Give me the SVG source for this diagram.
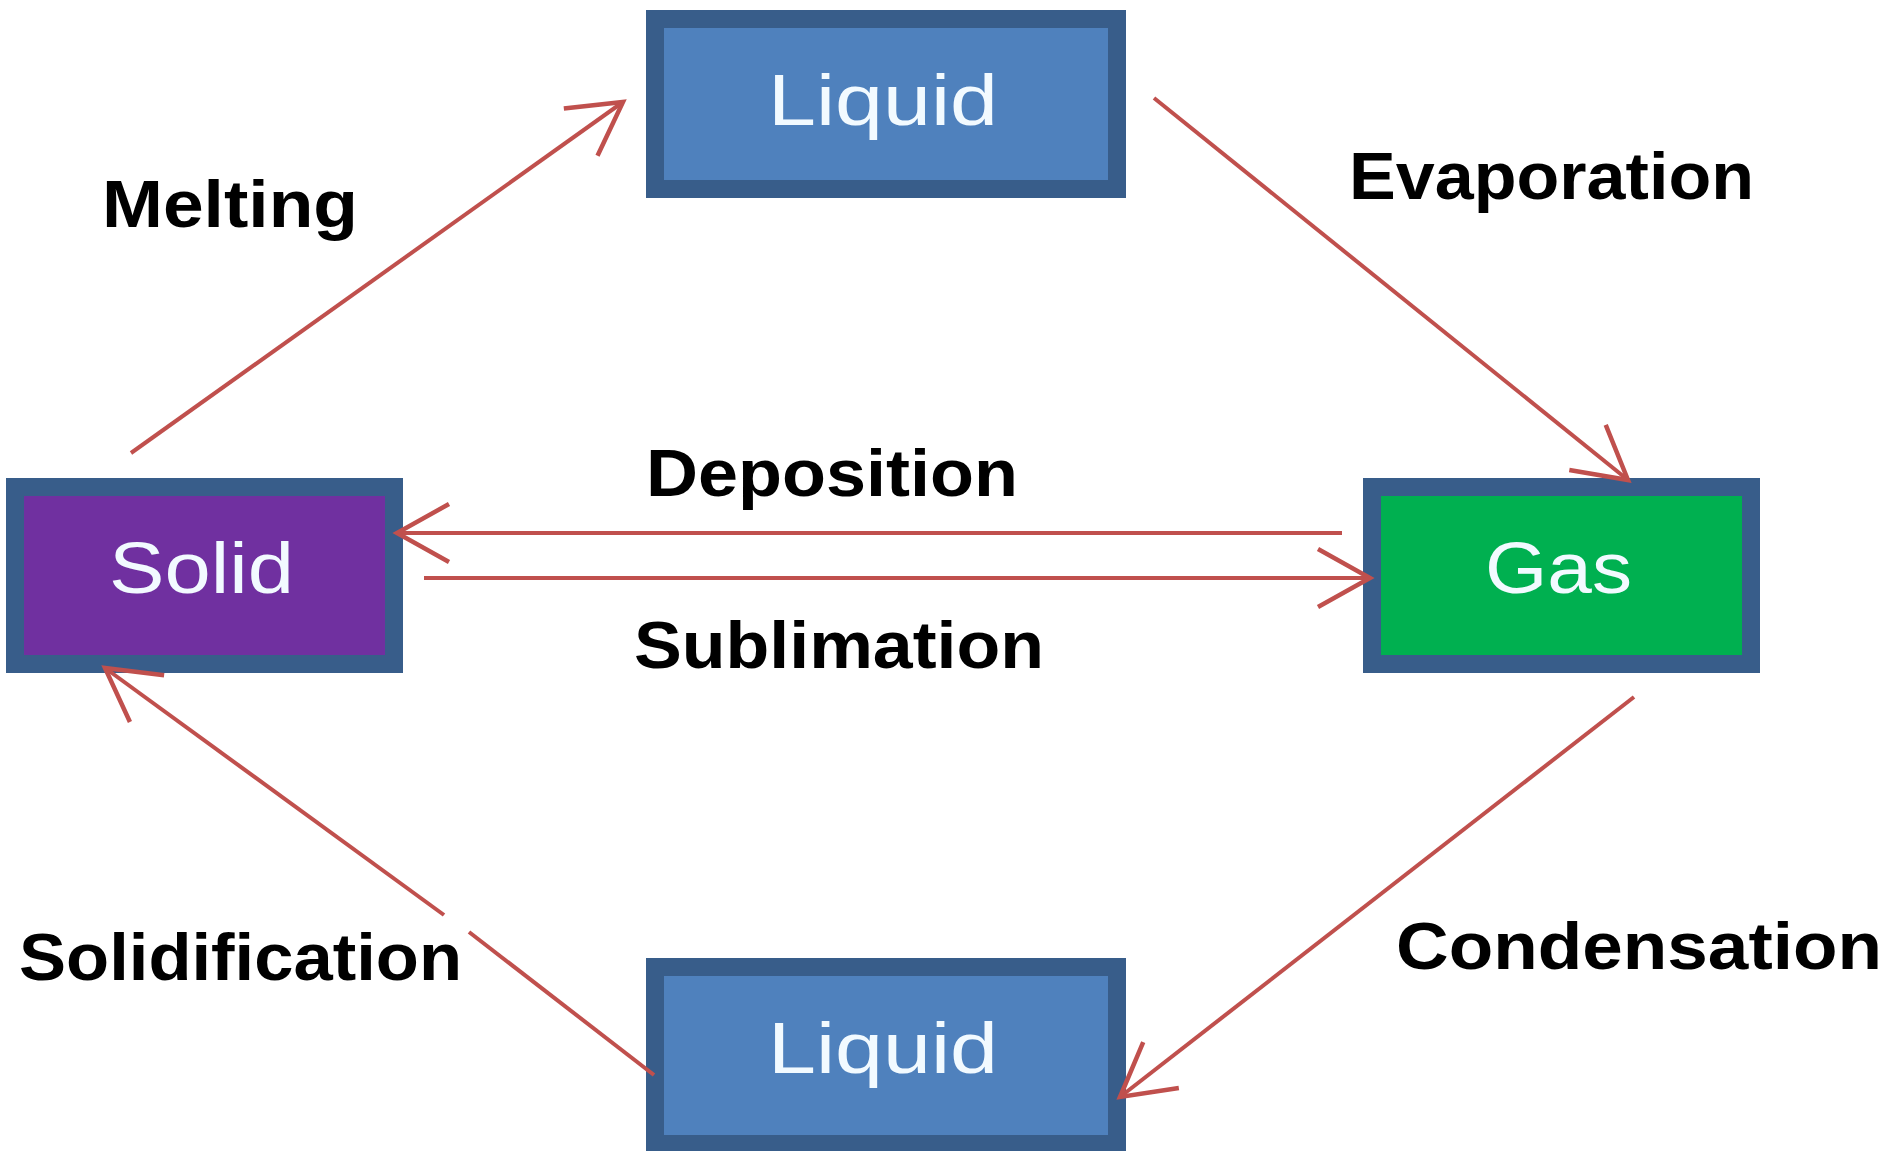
<svg xmlns="http://www.w3.org/2000/svg" width="1890" height="1151" viewBox="0 0 1890 1151">
<style>
.box{stroke:#385D8A;stroke-width:18;stroke-linejoin:miter}
.ntext{font-family:"Liberation Sans",Arial,sans-serif;font-size:72px;fill:#F2FAFF}
.lbl{font-family:"Liberation Sans",Arial,sans-serif;font-size:66px;font-weight:bold;fill:#000}
.conn{stroke:#C0504D;stroke-width:4;fill:none}
</style>
<defs>
<marker id="arr" markerUnits="userSpaceOnUse" viewBox="-60 -36 66 72" refX="0" refY="0" markerWidth="66" markerHeight="72" orient="auto">
<path d="M-52,-29 L0,0 L-52,29" fill="none" stroke="#C0504D" stroke-width="4.5"/>
</marker>
</defs>
<rect width="1890" height="1151" fill="#fff"/>
<g id="liquid-top">
<rect class="box" x="655" y="19" width="462" height="170" fill="#4F81BD"/>
<text class="ntext" x="768" y="125" textLength="230" lengthAdjust="spacingAndGlyphs">Liquid</text>
</g>
<g id="solid">
<rect class="box" x="15" y="487" width="379" height="177" fill="#7030A0"/>
<text class="ntext" x="109" y="593" textLength="185" lengthAdjust="spacingAndGlyphs">Solid</text>
</g>
<g id="gas">
<rect class="box" x="1372" y="487" width="379" height="177" fill="#00B050"/>
<text class="ntext" x="1485" y="593" textLength="147" lengthAdjust="spacingAndGlyphs">Gas</text>
</g>
<g id="liquid-bottom">
<rect class="box" x="655" y="967" width="462" height="177" fill="#4F81BD"/>
<text class="ntext" x="768" y="1073" textLength="230" lengthAdjust="spacingAndGlyphs">Liquid</text>
</g>
<g id="connectors">
<line class="conn" x1="131" y1="453" x2="623" y2="102" marker-end="url(#arr)"/>
<line class="conn" x1="1154" y1="98" x2="1628" y2="480" marker-end="url(#arr)"/>
<line class="conn" x1="1342" y1="533" x2="397" y2="533" stroke-width="6" marker-end="url(#arr)"/>
<line class="conn" x1="424" y1="578" x2="1370" y2="578" stroke-width="6" marker-end="url(#arr)"/>
<line class="conn" x1="1634" y1="697" x2="1120" y2="1097" marker-end="url(#arr)"/>
<line class="conn" x1="469" y1="932" x2="654" y2="1075"/>
<line class="conn" x1="444" y1="915" x2="105" y2="668" marker-end="url(#arr)"/>
</g>
<g id="labels">
<text class="lbl" x="102" y="227" textLength="256" lengthAdjust="spacingAndGlyphs">Melting</text>
<text class="lbl" x="1349" y="199" textLength="405" lengthAdjust="spacingAndGlyphs">Evaporation</text>
<text class="lbl" x="646" y="496" textLength="372" lengthAdjust="spacingAndGlyphs">Deposition</text>
<text class="lbl" x="634" y="668" textLength="410" lengthAdjust="spacingAndGlyphs">Sublimation</text>
<text class="lbl" x="19" y="980" textLength="443" lengthAdjust="spacingAndGlyphs">Solidification</text>
<text class="lbl" x="1396" y="969" textLength="486" lengthAdjust="spacingAndGlyphs">Condensation</text>
</g>
</svg>
